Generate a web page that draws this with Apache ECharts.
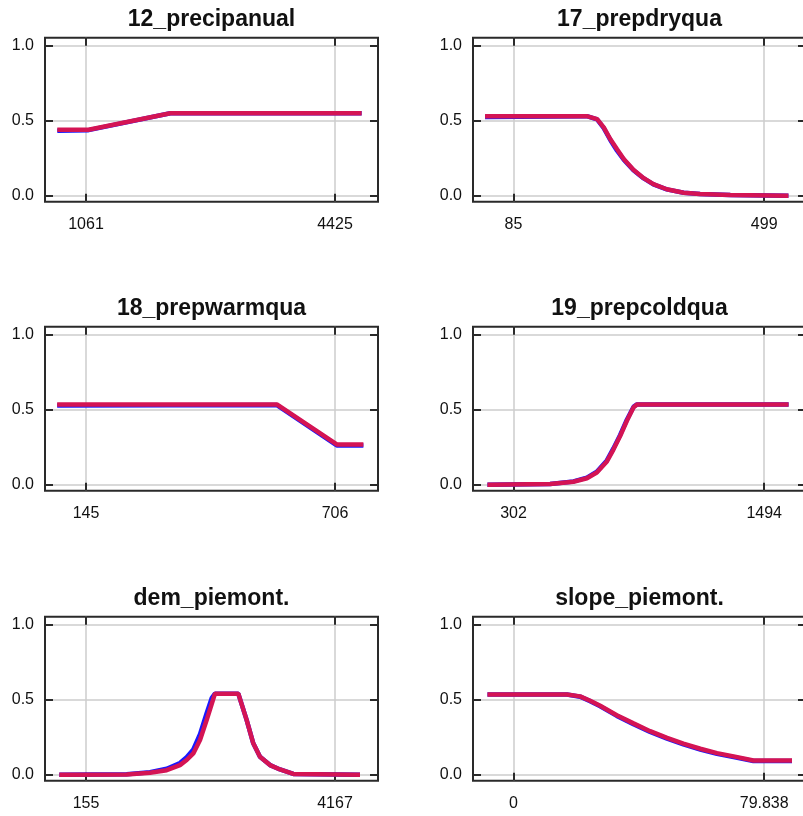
<!DOCTYPE html>
<html>
<head>
<meta charset="utf-8">
<script src="https://cdn.jsdelivr.net/npm/echarts@6/dist/echarts.min.js"></script>
<style>
  html, body { margin: 0; padding: 0; background: #fff; }
  #chart { width: 803px; height: 816px; }
</style>
</head>
<body>
<div id="chart"></div>
<script>
// Response curves: mean response (red) with the spread of replicate runs (blue)

const titles = ['12_precipanual', '17_prepdryqua', '18_prepwarmqua', '19_prepcoldqua', 'dem_piemont.', 'slope_piemont.'];

// Labelled x ticks per variable
const xTickValues = [[1061, 4425], [85, 499], [145, 706], [302, 1494], [155, 4167], [0, 79.838]];
// Visible x extent per variable
const xExtents = [[507, 5006], [18.1, 568], [52.6, 802.9], [109.4, 1692.7], [-505.6, 4859.8], [-12.9, 93.15]];

const yTickValues = [0, 0.5, 1];
const yExtent = [-0.04, 1.053];

// 12_precipanual
const precipanualX    = [673, 1095, 2200, 4785];
const precipanualMean = [0.44, 0.44, 0.55, 0.55];
const precipanualSpread = [0.433, 0.437, 0.55, 0.55];

// 17_prepdryqua
const prepdryquaX    = [38, 206, 223, 234, 245, 256, 267, 283, 300, 316, 338, 366, 393, 443, 539];
const prepdryquaMean = [0.53, 0.53, 0.51, 0.455, 0.376, 0.309, 0.245, 0.173, 0.117, 0.077, 0.043, 0.02, 0.011, 0.004, 0];
const prepdryquaSpread = [0.525, 0.53, 0.508, 0.45, 0.37, 0.30, 0.24, 0.17, 0.115, 0.075, 0.042, 0.02, 0.011, 0.004, 0];

// 18_prepwarmqua
const prepwarmquaX    = [80, 575, 710, 770];
const prepwarmquaMean = [0.535, 0.535, 0.268, 0.268];
const prepwarmquaSpread = [0.528, 0.531, 0.262, 0.262];

// 19_prepcoldqua
const prepcoldquaX    = [178, 476, 587, 651, 698, 746, 777, 809, 841, 873, 889, 1610];
const prepcoldquaMean = [0, 0.005, 0.02, 0.043, 0.081, 0.155, 0.234, 0.324, 0.426, 0.516, 0.535, 0.535];
const prepcoldquaSpread = [0, 0.005, 0.022, 0.047, 0.086, 0.162, 0.242, 0.332, 0.433, 0.52, 0.535, 0.535];

// dem_piemont.
const demX    = [-275, 810, 1186, 1455, 1669, 1777, 1884, 1992, 2099, 2180, 2233, 2609, 2744, 2850, 2958, 3120, 3281, 3495, 4570];
const demMean = [0, 0.002, 0.013, 0.03, 0.064, 0.098, 0.142, 0.231, 0.364, 0.47, 0.54, 0.54, 0.364, 0.209, 0.12, 0.064, 0.035, 0.005, 0];
const demSpread = [0, 0.003, 0.017, 0.04, 0.078, 0.117, 0.168, 0.27, 0.41, 0.51, 0.54, 0.54, 0.364, 0.209, 0.12, 0.064, 0.035, 0.005, 0];

// slope_piemont.
const slopeX    = [-8.3, 17.0, 21.2, 24.4, 27.6, 32.9, 38.2, 43.5, 48.9, 54.1, 59.5, 64.8, 70.1, 76.4, 88.7];
const slopeMean = [0.535, 0.535, 0.522, 0.493, 0.459, 0.396, 0.342, 0.29, 0.245, 0.207, 0.173, 0.144, 0.122, 0.095, 0.095];
const slopeSpread = [0.535, 0.535, 0.52, 0.49, 0.456, 0.392, 0.337, 0.285, 0.24, 0.202, 0.168, 0.139, 0.117, 0.091, 0.091];

const curveX      = [precipanualX, prepdryquaX, prepwarmquaX, prepcoldquaX, demX, slopeX];
const curveMean   = [precipanualMean, prepdryquaMean, prepwarmquaMean, prepcoldquaMean, demMean, slopeMean];
const curveSpread = [precipanualSpread, prepdryquaSpread, prepwarmquaSpread, prepcoldquaSpread, demSpread, slopeSpread];

// Panel layout (pixels)
const colLeft = [45, 473];
const rowTop = [37.7, 326.7, 616.7];
const panelW = 333;
const panelH = 164;
const titleGap = 30;

const FONT = "'Liberation Sans', Arial, sans-serif";
const FRAME = '#2a2a2a';
const GRIDLINE = '#cdcdcd';
const RED = 'rgb(212,20,84)';
const BLUE = '#1818ff';

const zip = (xs, ys) => xs.map((x, k) => [x, ys[k]]);

const grid = [], xAxis = [], yAxis = [], series = [], title = [];

titles.forEach((name, i) => {
  const col = i % 2, row = Math.floor(i / 2);
  const left = colLeft[col], top = rowTop[row];

  grid.push({
    left: left, top: top, width: panelW, height: panelH,
    show: true, borderColor: FRAME, borderWidth: 2, backgroundColor: '#fff',
    outerBoundsMode: 'none'
  });

  title.push({
    text: name,
    left: left + panelW / 2,
    top: top - titleGap,
    padding: 0,
    textAlign: 'center',
    textStyle: { fontFamily: FONT, fontSize: 23, fontWeight: 'bold', color: '#111' }
  });

  const tickStyle = { inside: true, length: 8, lineStyle: { color: FRAME, width: 2 } };

  const xBase = {
    gridIndex: i, type: 'value', min: xExtents[i][0], max: xExtents[i][1],
    axisLine: { show: false, onZero: false }
  };
  xAxis.push(Object.assign({}, xBase, {
    position: 'bottom',
    axisTick: Object.assign({ customValues: xTickValues[i] }, tickStyle),
    axisLabel: {
      customValues: xTickValues[i], formatter: v => String(v),
      margin: 15, fontSize: 16, color: '#111', fontFamily: FONT
    },
    splitLine: { show: true, lineStyle: { color: GRIDLINE, width: 1.5 } }
  }));
  xAxis.push(Object.assign({}, xBase, {
    position: 'top',
    axisTick: Object.assign({ customValues: xTickValues[i] }, tickStyle),
    axisLabel: { show: false },
    splitLine: { show: false }
  }));

  const yBase = {
    gridIndex: i, type: 'value', min: yExtent[0], max: yExtent[1],
    axisLine: { show: false, onZero: false }
  };
  yAxis.push(Object.assign({}, yBase, {
    position: 'left',
    axisTick: Object.assign({ customValues: yTickValues }, tickStyle),
    axisLabel: {
      customValues: yTickValues, formatter: v => v.toFixed(1),
      margin: 11, fontSize: 16, color: '#111', fontFamily: FONT
    },
    splitLine: { show: true, lineStyle: { color: GRIDLINE, width: 1.5 } }
  }));
  yAxis.push(Object.assign({}, yBase, {
    position: 'right',
    axisTick: Object.assign({ customValues: yTickValues }, tickStyle),
    axisLabel: { show: false },
    splitLine: { show: false }
  }));

  series.push({
    type: 'line', xAxisIndex: 2 * i, yAxisIndex: 2 * i,
    data: zip(curveX[i], curveSpread[i]),
    showSymbol: false, silent: true, z: 3,
    lineStyle: { color: BLUE, width: 4.5, cap: 'butt' }
  });
  series.push({
    type: 'line', xAxisIndex: 2 * i, yAxisIndex: 2 * i,
    data: zip(curveX[i], curveMean[i]),
    showSymbol: false, silent: true, z: 4,
    lineStyle: { color: RED, width: 4.5, cap: 'butt' }
  });
});

const chart = echarts.init(document.getElementById('chart'), null, { renderer: 'canvas' });
chart.setOption({
  animation: false,
  backgroundColor: '#fff',
  title: title,
  grid: grid,
  xAxis: xAxis,
  yAxis: yAxis,
  series: series
});
</script>
</body>
</html>
